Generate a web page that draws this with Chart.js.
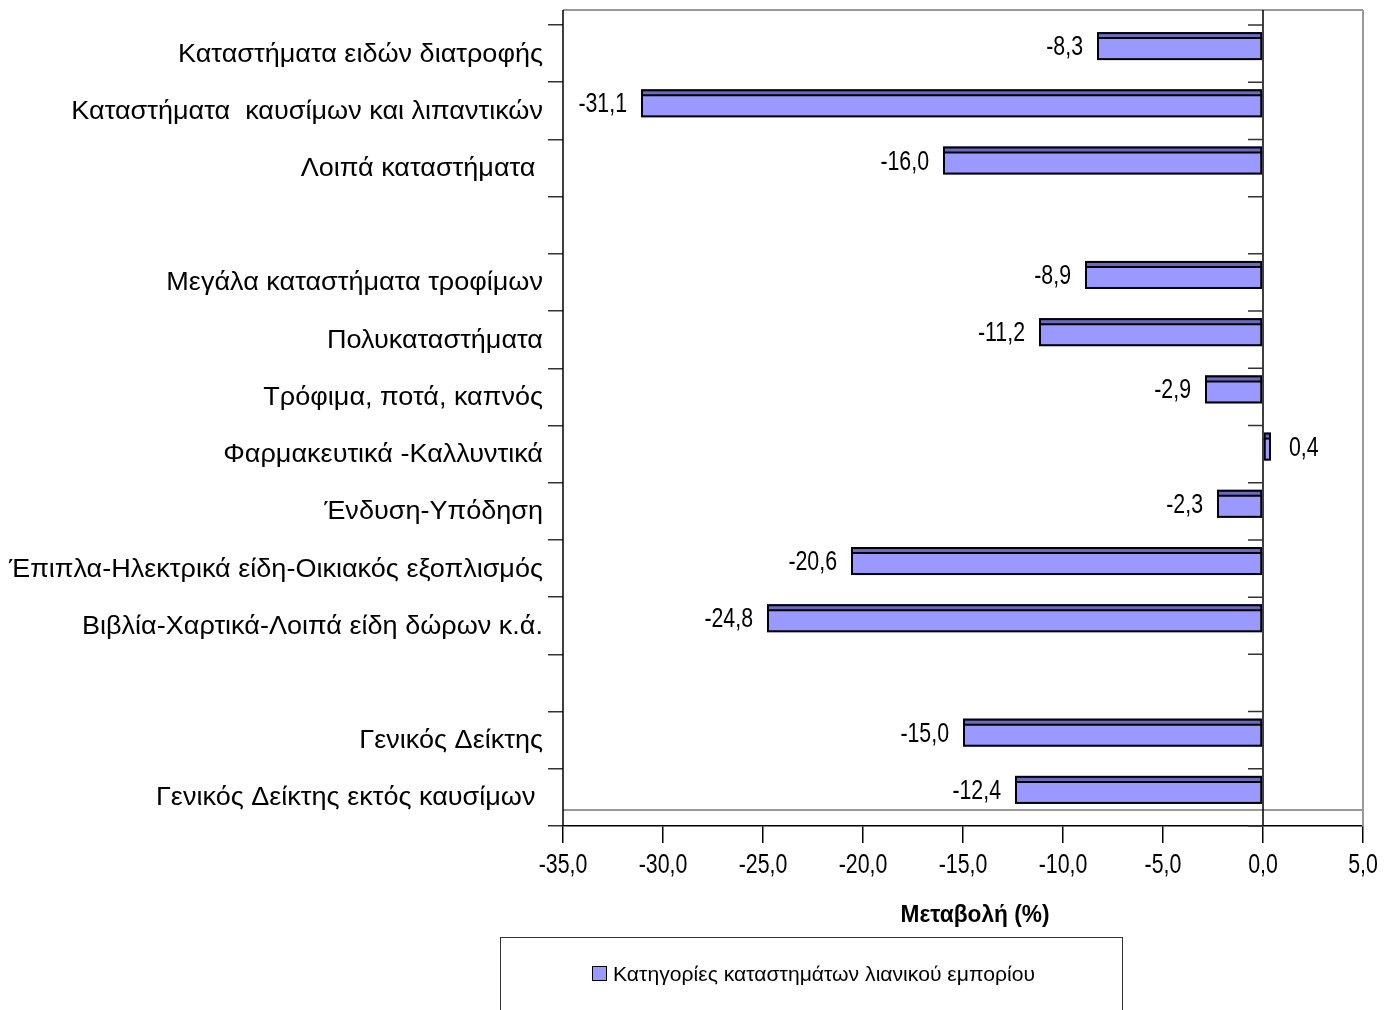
<!DOCTYPE html>
<html><head><meta charset="utf-8">
<script src="https://cdn.jsdelivr.net/npm/chart.js@4/dist/chart.umd.min.js"></script>
<style>html,body{margin:0;padding:0;background:#fff;overflow:hidden}</style>
</head><body>
<canvas id="c" width="1398" height="1010"></canvas>
<script>
const categories = ['Καταστήματα ειδών διατροφής', 'Καταστήματα  καυσίμων και λιπαντικών', 'Λοιπά καταστήματα ', '', 'Μεγάλα καταστήματα τροφίμων', 'Πολυκαταστήματα', 'Τρόφιμα, ποτά, καπνός', 'Φαρμακευτικά -Καλλυντικά', 'Ένδυση-Υπόδηση', 'Έπιπλα-Ηλεκτρικά είδη-Οικιακός εξοπλισμός', 'Βιβλία-Χαρτικά-Λοιπά είδη δώρων κ.ά.', '', 'Γενικός Δείκτης', 'Γενικός Δείκτης εκτός καυσίμων '];
const values = [-8.3, -31.1, -16.0, null, -8.9, -11.2, -2.9, 0.4, -2.3, -20.6, -24.8, null, -15.0, -12.4];
const xTicks = [-35, -30, -25, -20, -15, -10, -5, 0, 5];
const seriesLabel = 'Κατηγορίες καταστημάτων λιανικού εμπορίου';
const axisTitle = 'Μεταβολή (%)';

const FAMILY = "'Liberation Sans', Arial, sans-serif";
const FRONT = '#9999ff';
const TOPFACE = '#6b6bbf';
const DEPTH = 15;
const fmt = v => v.toFixed(1).replace('.', ',');

function nText(ctx, text, x, y, opt) {
  const o = Object.assign({size: 27, weight: '', align: 'left', sx: 0.79, width: null}, opt || {});
  ctx.save();
  ctx.font = `${o.weight} ${o.size}px ${FAMILY}`;
  let sx = o.sx;
  if (o.width) sx = o.width / ctx.measureText(text).width;
  ctx.translate(x, y);
  ctx.scale(sx, 1);
  ctx.fillStyle = '#000';
  ctx.textAlign = o.align;
  ctx.textBaseline = 'alphabetic';
  ctx.fillText(text, 0, 0);
  ctx.restore();
}

const framePlugin = {
  id: 'frame',
  beforeDatasetsDraw(chart) {
    const {ctx, chartArea: a, scales: {x, y}} = chart;
    ctx.save();
    ctx.strokeStyle = '#999';
    ctx.lineWidth = 2;
    ctx.beginPath();
    ctx.moveTo(a.left, a.top - DEPTH); ctx.lineTo(a.right, a.top - DEPTH);
    ctx.moveTo(a.right, a.top - DEPTH); ctx.lineTo(a.right, a.bottom);
    ctx.moveTo(a.left, a.bottom - DEPTH - 1); ctx.lineTo(a.right, a.bottom - DEPTH - 1);
    ctx.stroke();
    const x0 = x.getPixelForValue(0);
    ctx.strokeStyle = '#000';
    ctx.lineWidth = 1.5;
    ctx.beginPath();
    ctx.moveTo(a.left, a.top - DEPTH); ctx.lineTo(a.left, a.bottom);
    ctx.moveTo(x0, a.top - DEPTH); ctx.lineTo(x0, a.bottom);
    ctx.stroke();
    const half = (y.getPixelForValue(1) - y.getPixelForValue(0)) / 2;
    ctx.strokeStyle = '#333';
    ctx.beginPath();
    for (let i = 0; i <= categories.length; i++) {
      const yb = y.getPixelForValue(0) - half + i * 2 * half;
      ctx.moveTo(x0 - 15, yb); ctx.lineTo(x0, yb);
    }
    ctx.stroke();
    ctx.restore();
    ctx.save();
    ctx.translate(0, -DEPTH / 2);
  },
  afterDatasetsDraw(chart) {
    const {ctx} = chart;
    const meta = chart.getDatasetMeta(0);
    meta.data.forEach((el, i) => {
      const v = values[i];
      if (v === null || v === undefined) return;
      const p = el.getProps(['x', 'y', 'base', 'height'], true);
      const l = Math.min(p.x, p.base), r = Math.max(p.x, p.base);
      const t = p.y - p.height / 2;
      ctx.fillStyle = TOPFACE;
      ctx.fillRect(l, t, r - l, 6);
      ctx.strokeStyle = '#000';
      ctx.lineWidth = 2;
      ctx.strokeRect(l + 1, t + 1, r - l - 2, p.height - 2);
      ctx.beginPath();
      ctx.moveTo(l, t + 6); ctx.lineTo(r, t + 6);
      ctx.stroke();
      if (v < 0) nText(ctx, fmt(v), l - 14, p.y + 9, {align: 'right'});
      else nText(ctx, fmt(v), r + 18, p.y + 9, {align: 'left'});
    });
    ctx.restore();
  },
  afterDraw(chart) {
    const {ctx, chartArea: a, scales: {x, y}} = chart;
    categories.forEach((c, i) => {
      if (!c) return;
      nText(ctx, c, a.left - 20, y.getPixelForValue(i) + 8, {align: 'right', size: 26, sx: 1.04});
    });
    xTicks.forEach(v => {
      nText(ctx, fmt(v), x.getPixelForValue(v), a.bottom + 47, {align: 'center'});
    });
    nText(ctx, axisTitle, 975, a.bottom + 96, {align: 'center', weight: 'bold', size: 24, width: 149});
    ctx.save();
    ctx.strokeStyle = '#333';
    ctx.lineWidth = 1;
    ctx.strokeRect(500.5, 937.5, 622, 100);
    ctx.fillStyle = FRONT;
    ctx.fillRect(592, 966, 15, 15);
    ctx.strokeStyle = '#000';
    ctx.strokeRect(592.5, 966.5, 14, 14);
    ctx.restore();
    nText(ctx, seriesLabel, 613, 981, {size: 21, width: 422});
  }
};

new Chart(document.getElementById('c'), {
  type: 'bar',
  data: {
    labels: categories,
    datasets: [{
      label: seriesLabel,
      data: values,
      backgroundColor: FRONT,
      borderColor: '#000',
      borderWidth: 0,
      barPercentage: 0.49,
      categoryPercentage: 1
    }]
  },
  options: {
    indexAxis: 'y',
    responsive: false,
    animation: false,
    devicePixelRatio: 1,
    layout: {padding: {top: 25, right: 35, left: 0, bottom: 0}},
    plugins: {legend: {display: false}, tooltip: {enabled: false}},
    scales: {
      x: {
        min: -35, max: 5,
        afterBuildTicks: s => { s.ticks = xTicks.map(v => ({value: v})); },
        afterFit: s => { s.height = 184; },
        grid: {drawOnChartArea: false, tickLength: 17, color: '#000', lineWidth: 1.5},
        border: {display: true, color: '#000', width: 1.5},
        ticks: {display: false}
      },
      y: {
        afterFit: s => { s.width = 563; },
        grid: {offset: true, drawOnChartArea: false, tickLength: 15, color: '#333', lineWidth: 1.5},
        border: {display: false},
        ticks: {display: false}
      }
    }
  },
  plugins: [framePlugin]
});
</script>
</body></html>
